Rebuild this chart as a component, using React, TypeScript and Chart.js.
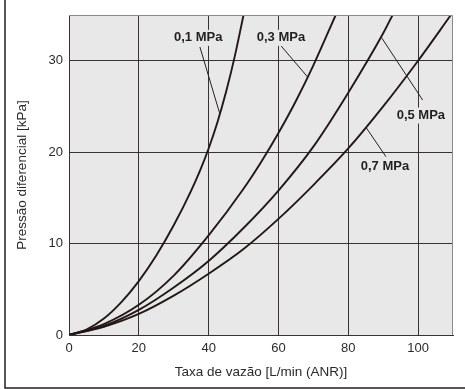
import React, { useEffect, useRef } from 'react';
import { Chart, registerables } from 'chart.js';

Chart.register(...registerables);

// ---- data ----
const FLOW_01 = [0, 5, 10, 15, 20, 25, 30, 35, 37.5, 40, 42.5, 45, 47.5, 50];
const DP_01 = [0, 0.6, 1.8, 3.6, 5.9, 8.7, 12.0, 15.8, 17.95, 20.4, 23.25, 26.6, 30.5, 35];
const FLOW_03 = [0, 10, 20, 30, 40, 50, 55, 60, 65, 70, 76.4];
const DP_03 = [0, 1.2, 3.3, 6.5, 10.9, 16.0, 18.9, 22.1, 25.6, 29.5, 35];
const FLOW_05 = [0, 10, 20, 30, 40, 50, 60, 70, 80, 90, 92.7];
const DP_05 = [0, 1.0, 2.75, 5.2, 8.1, 11.7, 15.8, 20.6, 26.5, 33.0, 35];
const FLOW_07 = [0, 10, 20, 30, 40, 50, 60, 70, 80, 90, 100, 109.4];
const DP_07 = [0, 0.9, 2.3, 4.3, 6.7, 9.4, 12.7, 16.4, 20.4, 25.0, 30, 35];

const SERIES_LABELS = ['0,1 MPa', '0,3 MPa', '0,5 MPa', '0,7 MPa'];
const X_TICKS = [0, 20, 40, 60, 80, 100];
const Y_TICKS = [0, 10, 20, 30];
const X_TITLE = 'Taxa de vazão [L/min (ANR)]';
const Y_TITLE = 'Pressão diferencial [kPa]';

// label anchors in data coordinates: [textX, textY, leaderFromX, leaderFromY, leaderToX, leaderToY]
const LABEL_ANCHORS = [
  [37.0, 32.5, 37.5, 31.5, 43.2, 24.2],
  [60.7, 32.5, 60.8, 31.6, 68.4, 28.2],
  [100.8, 24.0, 89.4, 32.6, 101.3, 25.7],
  [90.5, 18.4, 85.1, 22.7, 90.8, 19.5],
];

const FONT = '"Liberation Sans", Arial, Helvetica, sans-serif';
const GRID = '#3a3232';
const CURVE = '#231815';

const toPts = (xs: number[], ys: number[]) => xs.map((x, i) => ({ x, y: ys[i] }));

const decor = {
  id: 'decor',
  beforeDraw(chart: any) {
    const { ctx, chartArea: a } = chart;
    ctx.save();
    ctx.fillStyle = '#e8e8e8';
    ctx.fillRect(a.left, a.top, a.right - a.left, a.bottom - a.top);
    ctx.restore();
  },
  afterDraw(chart: any) {
    const { ctx, chartArea: a } = chart;
    const xs = chart.scales.x;
    const ys = chart.scales.y;
    ctx.save();
    // top / right plot border
    ctx.strokeStyle = '#8a8a8a';
    ctx.lineWidth = 1;
    ctx.beginPath();
    ctx.moveTo(a.left, a.top + 0.5);
    ctx.lineTo(a.right - 0.5, a.top + 0.5);
    ctx.lineTo(a.right - 0.5, a.bottom);
    ctx.stroke();

    // labels
    ctx.font = 'bold 13px ' + FONT;
    ctx.textAlign = 'center';
    ctx.textBaseline = 'middle';
    LABEL_ANCHORS.forEach((an, i) => {
      const tx = xs.getPixelForValue(an[0]);
      const ty = ys.getPixelForValue(an[1]);
      const w = ctx.measureText(SERIES_LABELS[i]).width;
      ctx.fillStyle = '#e8e8e8';
      ctx.fillRect(tx - w / 2 - 2, ty - 8, w + 4, 16);
      ctx.fillStyle = '#231f20';
      ctx.fillText(SERIES_LABELS[i], tx, ty);
      ctx.strokeStyle = '#231f20';
      ctx.lineWidth = 1;
      ctx.beginPath();
      ctx.moveTo(xs.getPixelForValue(an[2]), ys.getPixelForValue(an[3]));
      ctx.lineTo(xs.getPixelForValue(an[4]), ys.getPixelForValue(an[5]));
      ctx.stroke();
    });

    // outer frame (left and bottom)
    ctx.strokeStyle = '#231f20';
    ctx.lineWidth = 1.5;
    ctx.beginPath();
    ctx.moveTo(5, 0);
    ctx.lineTo(5, 388);
    ctx.lineTo(chart.width, 388);
    ctx.stroke();
    ctx.restore();
  },
};

export default function App() {
  const ref = useRef<HTMLCanvasElement>(null);
  useEffect(() => {
    if (!ref.current) return;
    const mk = (xs: number[], ys: number[], label: string) => ({
      label,
      data: toPts(xs, ys),
      showLine: true,
      borderColor: CURVE,
      borderWidth: 1.9,
      pointRadius: 0,
      cubicInterpolationMode: 'monotone' as const,
      fill: false,
    });
    const chart = new Chart(ref.current, {
      type: 'scatter',
      data: {
        datasets: [
          mk(FLOW_01, DP_01, SERIES_LABELS[0]),
          mk(FLOW_03, DP_03, SERIES_LABELS[1]),
          mk(FLOW_05, DP_05, SERIES_LABELS[2]),
          mk(FLOW_07, DP_07, SERIES_LABELS[3]),
        ],
      },
      options: {
        responsive: false,
        animation: false,
        events: [],
        layout: { padding: { left: 0, top: 15, right: 12, bottom: 0 } },
        plugins: { legend: { display: false }, tooltip: { enabled: false } },
        scales: {
          x: {
            type: 'linear',
            min: 0,
            max: 110,
            afterBuildTicks: (s: any) => {
              s.ticks = X_TICKS.map((v) => ({ value: v }));
            },
            afterFit: (s: any) => {
              s.height = 54;
            },
            grid: { color: GRID, lineWidth: 1, drawTicks: false },
            border: { display: true, color: GRID, width: 1 },
            ticks: {
              padding: 6,
              color: '#2b2b2b',
              font: { family: FONT, size: 13 },
              maxRotation: 0,
            },
            title: {
              display: true,
              text: X_TITLE,
              color: '#2b2b2b',
              font: { family: FONT, size: 13.5 },
              padding: { top: 0, bottom: 9 },
            },
          },
          y: {
            type: 'linear',
            min: 0,
            max: 35,
            afterBuildTicks: (s: any) => {
              s.ticks = Y_TICKS.map((v) => ({ value: v }));
            },
            afterFit: (s: any) => {
              s.width = 69;
            },
            grid: { color: GRID, lineWidth: 1, drawTicks: false },
            border: { display: true, color: GRID, width: 1 },
            ticks: {
              padding: 6,
              color: '#2b2b2b',
              font: { family: FONT, size: 13 },
            },
            title: {
              display: true,
              text: Y_TITLE,
              color: '#2b2b2b',
              font: { family: FONT, size: 13.5 },
              padding: { top: 14, bottom: 0 },
            },
          },
        },
      },
      plugins: [decor],
    });
    return () => chart.destroy();
  }, []);
  return (
    <div style={{ position: 'fixed', left: 0, top: 0, width: 465, height: 389, background: '#fff' }}>
      <canvas ref={ref} width={465} height={389} style={{ display: 'block' }} />
    </div>
  );
}
